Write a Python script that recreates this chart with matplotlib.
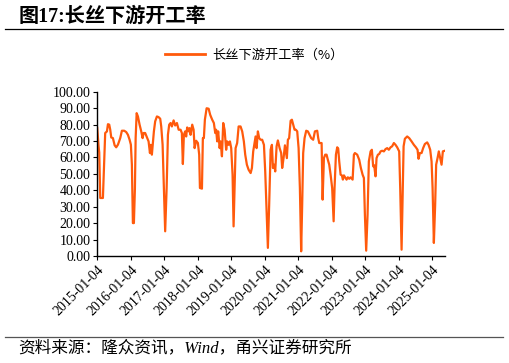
import pandas as pd
import matplotlib
matplotlib.use("Agg")
import matplotlib.pyplot as plt
import matplotlib.dates as mdates
from matplotlib.lines import Line2D
from matplotlib.ticker import FormatStrFormatter

plt.rcParams['font.family'] = ['Liberation Serif', 'Noto Sans CJK SC']

# 长丝下游开工率 (%), 读图估计的关键点
dates = [
    "2015-01-04", "2015-01-19", "2015-01-26", "2015-02-06", "2015-03-07", "2015-03-26",
    "2015-04-01", "2015-04-20", "2015-05-01", "2015-05-15", "2015-05-26", "2015-06-06",
    "2015-06-24", "2015-07-13", "2015-07-30", "2015-08-18", "2015-09-12", "2015-09-30",
    "2015-10-25", "2015-11-16", "2015-12-05", "2015-12-23", "2016-01-06", "2016-01-17",
    "2016-01-28", "2016-02-08", "2016-02-19", "2016-02-27", "2016-03-09", "2016-03-23",
    "2016-04-10", "2016-04-28", "2016-05-13", "2016-05-24", "2016-06-10", "2016-06-29",
    "2016-07-17", "2016-08-01", "2016-08-11", "2016-08-22", "2016-09-02", "2016-09-13",
    "2016-09-27", "2016-10-16", "2016-11-03", "2016-11-21", "2016-12-02", "2016-12-17",
    "2016-12-31", "2017-01-14", "2017-01-30", "2017-02-13", "2017-02-27", "2017-03-14",
    "2017-03-28", "2017-04-16", "2017-05-03", "2017-05-22", "2017-06-10", "2017-07-01",
    "2017-07-15", "2017-07-26", "2017-08-06", "2017-08-20", "2017-08-31", "2017-09-11",
    "2017-09-27", "2017-10-07", "2017-10-18", "2017-11-05", "2017-11-20", "2017-12-01",
    "2017-12-18", "2018-01-06", "2018-01-20", "2018-01-28", "2018-02-19", "2018-03-01",
    "2018-03-12", "2018-03-23", "2018-04-11", "2018-05-03", "2018-05-20", "2018-06-11",
    "2018-06-29", "2018-07-14", "2018-07-24", "2018-08-04", "2018-08-15", "2018-08-31",
    "2018-09-10", "2018-09-25", "2018-10-09", "2018-10-24", "2018-11-10", "2018-11-21",
    "2018-12-07", "2018-12-21", "2019-01-04", "2019-01-19", "2019-01-30", "2019-02-10",
    "2019-02-21", "2019-03-10", "2019-03-26", "2019-04-16", "2019-05-04", "2019-05-22",
    "2019-06-06", "2019-06-24", "2019-07-13", "2019-08-04", "2019-08-18", "2019-09-01",
    "2019-09-16", "2019-09-27", "2019-10-08", "2019-10-22", "2019-11-05", "2019-11-21",
    "2019-12-08", "2019-12-27", "2020-01-10", "2020-02-08", "2020-02-22", "2020-03-09",
    "2020-03-23", "2020-04-03", "2020-04-17", "2020-04-28", "2020-05-13", "2020-05-27",
    "2020-06-15", "2020-07-02", "2020-07-13", "2020-07-28", "2020-08-12", "2020-08-22",
    "2020-09-02", "2020-09-13", "2020-09-27", "2020-10-13", "2020-10-27", "2020-11-10",
    "2020-11-25", "2020-12-09", "2020-12-24", "2021-01-08", "2021-01-22", "2021-02-05",
    "2021-02-16", "2021-02-27", "2021-03-14", "2021-04-01", "2021-04-19", "2021-05-08",
    "2021-05-25", "2021-06-16", "2021-07-05", "2021-07-30", "2021-08-10", "2021-08-21",
    "2021-09-16", "2021-09-27", "2021-10-11", "2021-10-25", "2021-11-09", "2021-11-23",
    "2021-12-08", "2021-12-23", "2022-01-09", "2022-01-25", "2022-02-04", "2022-02-19",
    "2022-03-05", "2022-03-16", "2022-03-27", "2022-04-11", "2022-04-25", "2022-05-06",
    "2022-05-17", "2022-05-31", "2022-06-15", "2022-06-29", "2022-07-14", "2022-07-29",
    "2022-08-20", "2022-09-03", "2022-09-14", "2022-10-09", "2022-10-31", "2022-11-18",
    "2022-12-07", "2022-12-21", "2023-01-01", "2023-01-15", "2023-01-30", "2023-02-13",
    "2023-03-04", "2023-03-18", "2023-04-01", "2023-04-12", "2023-04-27", "2023-05-08",
    "2023-05-23", "2023-06-06", "2023-06-21", "2023-07-08", "2023-07-27", "2023-08-14",
    "2023-09-01", "2023-09-19", "2023-10-08", "2023-10-25", "2023-11-13", "2023-12-01",
    "2023-12-19", "2024-01-10", "2024-01-21", "2024-02-05", "2024-02-16", "2024-02-27",
    "2024-03-12", "2024-04-06", "2024-04-28", "2024-05-24", "2024-06-18", "2024-07-10",
    "2024-07-28", "2024-08-08", "2024-08-22", "2024-09-10", "2024-09-27", "2024-10-16",
    "2024-11-10", "2024-11-25", "2024-12-13", "2024-12-28", "2025-01-08", "2025-01-22",
    "2025-02-05", "2025-02-16", "2025-03-03", "2025-03-17", "2025-04-01", "2025-04-16",
    "2025-04-30", "2025-05-22",
]
rate = [
    78.0, 66.8, 63.0, 35.3, 35.3, 65.7,
    74.9, 75.9, 80.3, 80.0, 76.9, 72.2,
    71.8, 67.4, 66.2, 67.8, 71.8, 76.3,
    76.3, 75.5, 73.8, 70.8, 67.8, 55.6,
    20.0, 20.0, 41.0, 71.8, 87.0, 85.0,
    80.0, 75.9, 71.8, 74.9, 74.9, 72.2,
    69.8, 62.7, 67.7, 61.7, 68.8, 75.9,
    82.0, 85.0, 84.6, 83.6, 78.9, 67.8,
    41.4, 15.0, 41.4, 73.8, 80.0, 81.0,
    78.9, 82.6, 79.5, 81.0, 76.9, 76.9,
    74.9, 56.0, 73.8, 75.9, 72.8, 78.3,
    75.9, 77.9, 73.8, 80.0, 76.9, 65.7,
    70.2, 68.8, 61.7, 41.4, 41.0, 71.8,
    71.8, 83.0, 90.0, 89.7, 86.0, 83.0,
    81.0, 74.9, 76.9, 69.8, 75.9, 65.7,
    69.8, 60.7, 81.0, 76.9, 64.7, 69.8,
    67.7, 69.8, 65.7, 49.5, 18.0, 41.4,
    65.7, 68.8, 78.9, 78.9, 75.9, 69.8,
    61.7, 55.6, 52.5, 50.5, 53.6, 63.7,
    68.8, 72.8, 65.7, 75.9, 71.8, 70.8,
    70.8, 67.7, 51.5, 4.9, 31.0, 64.7,
    67.7, 53.6, 55.6, 51.5, 66.8, 70.4,
    65.7, 62.7, 53.6, 59.6, 67.4, 63.7,
    59.6, 70.8, 71.8, 82.4, 83.0, 80.0,
    76.9, 76.9, 75.9, 65.7, 41.4, 2.8,
    31.0, 62.7, 71.8, 76.3, 75.9, 73.8,
    71.8, 70.8, 75.9, 76.3, 71.8, 68.8,
    68.8, 34.3, 59.6, 61.7, 61.7, 58.6,
    55.6, 49.5, 41.4, 21.1, 41.4, 61.7,
    66.2, 65.4, 57.6, 49.5, 49.1, 46.5,
    49.1, 47.9, 46.5, 47.9, 47.0, 47.9,
    46.5, 61.7, 62.7, 61.7, 58.6, 53.6,
    49.5, 47.5, 25.0, 3.2, 25.0, 57.6,
    63.7, 64.7, 54.6, 55.2, 48.5, 59.6,
    61.7, 62.1, 63.7, 64.1, 63.7, 65.1,
    65.7, 64.7, 66.2, 66.8, 68.8, 67.7,
    66.2, 63.7, 41.4, 3.8, 35.3, 66.8,
    71.4, 72.8, 71.8, 69.8, 67.7, 66.2,
    64.7, 59.2, 62.7, 62.7, 65.7, 68.2,
    69.2, 67.7, 64.7, 57.6, 41.4, 7.9,
    31.0, 55.6, 59.6, 63.7, 59.6, 55.6,
    63.7, 64.1,
]
tick_dates = [f"{y}-01-04" for y in range(2015, 2026)]

title_text = "图17:长丝下游开工率"
legend_label = "长丝下游开工率（%）"
source_text = "资料来源：隆众资讯，Wind，甬兴证券研究所"

line_color = "#FF5A0C"

x = pd.to_datetime(dates)

fig = plt.figure(figsize=(5.09, 3.63), dpi=100)
ax = fig.add_axes([0.191, 0.295, 0.683, 0.452])
ax.plot(x, rate, color=line_color, lw=1.6)

ax.set_ylim(0, 100)
ax.set_yticks(range(0, 101, 10))
ax.yaxis.set_major_formatter(FormatStrFormatter('%.2f'))
ax.set_xlim(pd.Timestamp("2015-01-04"), pd.Timestamp("2025-05-22"))
ax.set_xticks(pd.to_datetime(tick_dates))
ax.xaxis.set_major_formatter(mdates.DateFormatter('%Y-%m-%d'))
for lab in ax.get_xticklabels():
    lab.set_rotation(45)
    lab.set_ha('right')
    lab.set_rotation_mode('anchor')
ax.tick_params(axis='both', labelsize=10, length=3, width=0.8, direction='out', pad=2)
for s in ['top', 'right']:
    ax.spines[s].set_visible(False)
for s in ['left', 'bottom']:
    ax.spines[s].set_linewidth(1.0)

handle = Line2D([], [], color=line_color, lw=2)
fig.legend([handle], [legend_label], loc='center', bbox_to_anchor=(0.5, 0.848),
           frameon=False, handlelength=3.0, handletextpad=0.6,
           prop={'family': ['Noto Sans CJK SC'], 'size': 9.5})

fig.text(0.036, 0.953, title_text, fontsize=14.5, fontweight='bold', va='center', ha='left',
         family=['Liberation Serif', 'Noto Sans CJK SC'])
fig.add_artist(Line2D([0.01, 0.988], [0.92, 0.92], color='black', lw=0.9))
fig.add_artist(Line2D([0.01, 0.988], [0.072, 0.072], color='#555555', lw=0.9))
fig.text(0.036, 0.040, source_text, fontsize=12, style='italic', va='center', ha='left',
         family=['Liberation Serif', 'Noto Sans CJK SC'])

fig.savefig("out.png", dpi=100)
